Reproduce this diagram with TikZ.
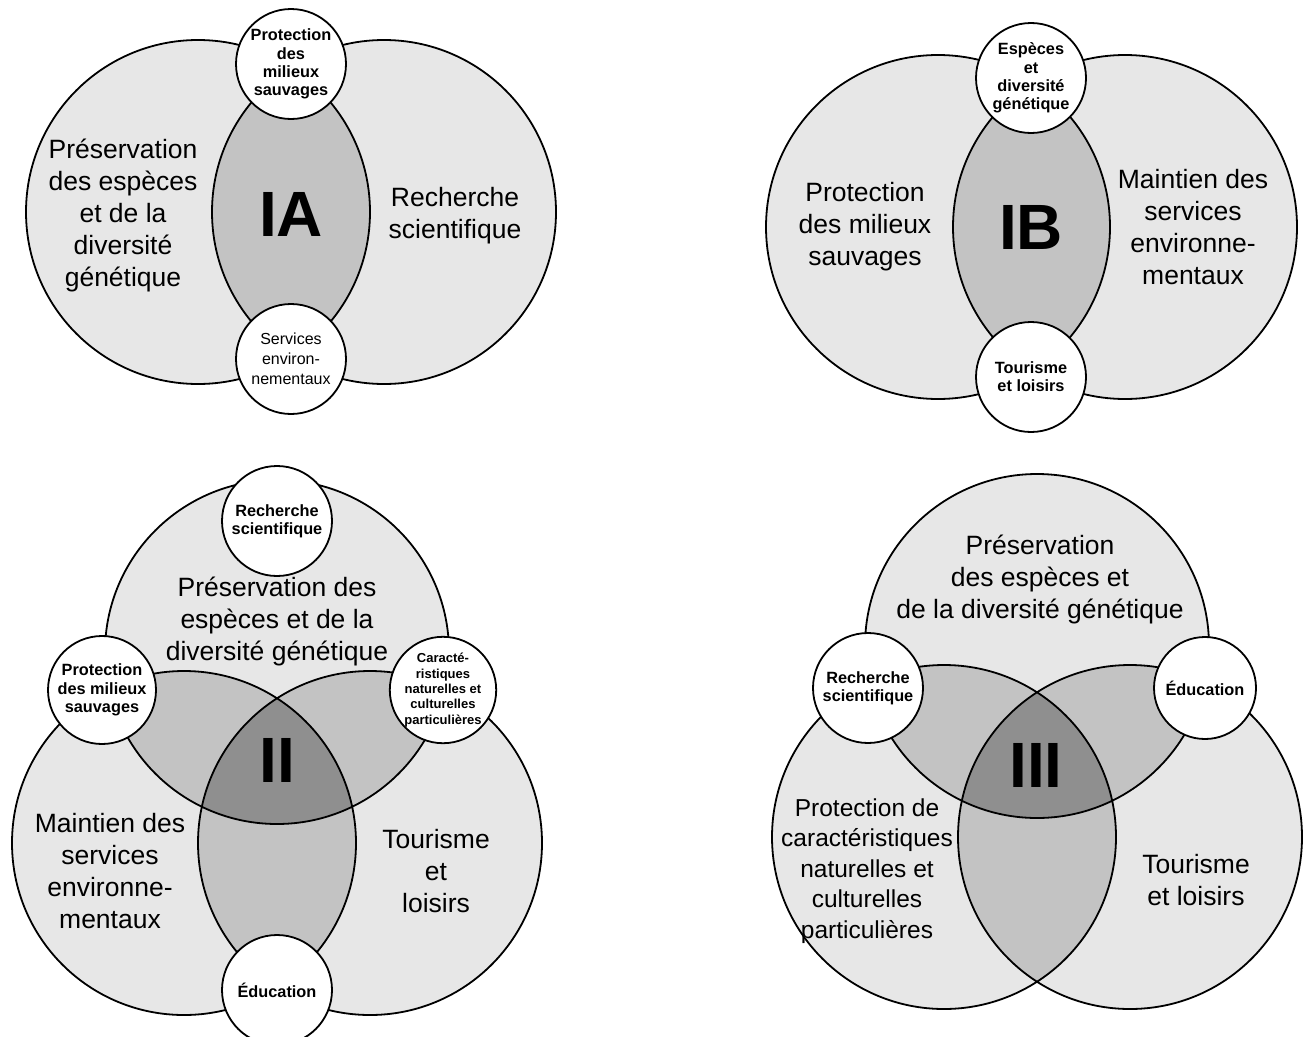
\documentclass[tikz,border=0pt]{standalone}
\usepackage{fontspec}
\setmainfont{Liberation Sans}
\definecolor{lite}{gray}{0.905}
\definecolor{midg}{gray}{0.765}
\definecolor{darkg}{gray}{0.56}
\begin{document}
\begin{tikzpicture}[x=1pt,y=-1pt,
  ring/.style={draw=black,line width=1.8pt},
  smallc/.style={circle,draw=black,line width=1.8pt,fill=white,inner sep=0pt,align=center,
    font=\bfseries\fontsize{16.3}{18.3}\selectfont},
  smallreg/.style={smallc,font=\fontsize{16}{20}\selectfont},
  smalltiny/.style={smallc,font=\bfseries\fontsize{13}{15.3}\selectfont},
  region/.style={align=center,inner sep=0pt,font=\fontsize{26.5}{32}\selectfont},
  regionsm/.style={region,font=\fontsize{24.5}{30.5}\selectfont},
  biglabel/.style={inner sep=0pt,font=\bfseries\fontsize{64}{64}\selectfont}]
\def\R{172}
\useasboundingbox (0,0) rectangle (1303,1036);
\fill[white] (0,0) rectangle (1303,1036);

% ---------------- IA ----------------
\coordinate (a1) at (198,212);
\coordinate (a2) at (384,212);
\fill[lite] (a1) circle[radius=\R] (a2) circle[radius=\R];
\begin{scope}\clip (a1) circle[radius=\R]; \fill[midg] (a2) circle[radius=\R];\end{scope}
\draw[ring] (a1) circle[radius=\R] (a2) circle[radius=\R];
\node[smallc,minimum size=110pt] (aT) at (291,64) {Protection\\des\\milieux\\sauvages};
\node[smallreg,minimum size=110pt] (aB) at (291,359) {Services\\environ-\\nementaux};
\node[region] (aL) at (123,215) {Préservation\\des espèces\\et de la\\diversité\\génétique};
\node[region] (aR) at (455,216) {Recherche\\scientifique};
\node[biglabel] (aX) at (291,214) {IA};

% ---------------- IB ----------------
\coordinate (b1) at (938,227);
\coordinate (b2) at (1125,227);
\fill[lite] (b1) circle[radius=\R] (b2) circle[radius=\R];
\begin{scope}\clip (b1) circle[radius=\R]; \fill[midg] (b2) circle[radius=\R];\end{scope}
\draw[ring] (b1) circle[radius=\R] (b2) circle[radius=\R];
\node[smallc,minimum size=110pt] (bT) at (1031,78) {Espèces\\et\\diversité\\génétique};
\node[smallc,minimum size=110pt] (bB) at (1031,377) {Tourisme\\et loisirs};
\node[region] (bL) at (865,227) {Protection\\des milieux\\sauvages};
\node[region] (bR) at (1193,227) {Maintien des\\services\\environne-\\mentaux};
\node[biglabel] (bX) at (1031,227) {IB};

% ---------------- II ----------------
\coordinate (c0) at (277,652);
\coordinate (c1) at (184,843);
\coordinate (c2) at (370,843);
\fill[lite] (c0) circle[radius=\R] (c1) circle[radius=\R] (c2) circle[radius=\R];
\begin{scope}\clip (c0) circle[radius=\R]; \fill[midg] (c1) circle[radius=\R] (c2) circle[radius=\R];\end{scope}
\begin{scope}\clip (c1) circle[radius=\R]; \fill[midg] (c2) circle[radius=\R];\end{scope}
\begin{scope}\clip (c0) circle[radius=\R]; \clip (c1) circle[radius=\R]; \fill[darkg] (c2) circle[radius=\R];\end{scope}
\draw[ring] (c0) circle[radius=\R] (c1) circle[radius=\R] (c2) circle[radius=\R];
\node[smallc,minimum size=110pt] (cT) at (277,521) {Recherche\\scientifique};
\node[smallc,minimum size=108pt] (cL) at (102,690) {Protection\\des milieux\\sauvages};
\node[smalltiny,minimum size=100pt] (cR) at (443,690) {Caracté-\\ristiques\\naturelles et\\culturelles\\particulières};
\node[smallc,minimum size=110pt] (cB) at (277,990) {Éducation};
\node[region] (cTt) at (277,621) {Préservation des\\espèces et de la\\diversité génétique};
\node[region] (cLt) at (110,871) {Maintien des\\services\\environne-\\mentaux};
\node[region] (cRt) at (436,871) {Tourisme\\et\\loisirs};
\node[biglabel] (cX) at (277,760) {II};

% ---------------- III ----------------
\coordinate (d0) at (1037,646);
\coordinate (d1) at (944,837);
\coordinate (d2) at (1130,837);
\fill[lite] (d0) circle[radius=\R] (d1) circle[radius=\R] (d2) circle[radius=\R];
\begin{scope}\clip (d0) circle[radius=\R]; \fill[midg] (d1) circle[radius=\R] (d2) circle[radius=\R];\end{scope}
\begin{scope}\clip (d1) circle[radius=\R]; \fill[midg] (d2) circle[radius=\R];\end{scope}
\begin{scope}\clip (d0) circle[radius=\R]; \clip (d1) circle[radius=\R]; \fill[darkg] (d2) circle[radius=\R];\end{scope}
\draw[ring] (d0) circle[radius=\R] (d1) circle[radius=\R] (d2) circle[radius=\R];
\node[smallc,minimum size=110pt] (dL) at (868,688) {Recherche\\scientifique};
\node[smallc,minimum size=102pt] (dR) at (1205,688) {Éducation};
\node[region] (dTt) at (1040,579) {Préservation\\des espèces et\\de la diversité génétique};
\node[regionsm] (dLt) at (867,871) {Protection de\\caractéristiques\\naturelles et\\culturelles\\particulières};
\node[region] (dRt) at (1196,880) {Tourisme\\et loisirs};
\node[biglabel] (dX) at (1036,765) {III};
\end{tikzpicture}
\end{document}
